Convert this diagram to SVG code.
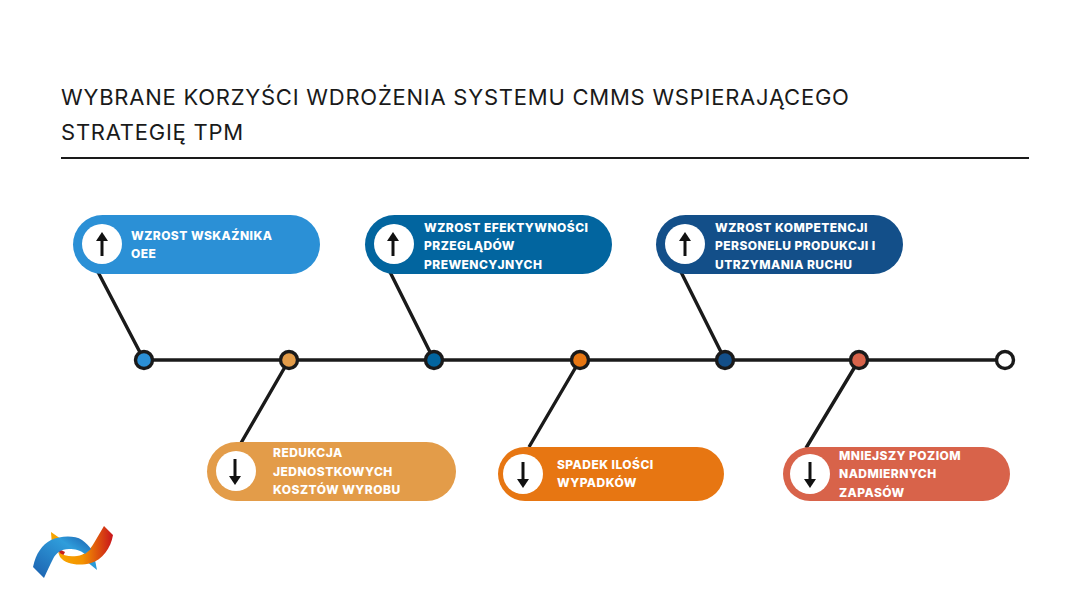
<svg xmlns="http://www.w3.org/2000/svg" width="1090" height="613" viewBox="0 0 1090 613">
<style>
.title{font:400 22px "Inter","Liberation Sans",sans-serif;letter-spacing:.76px;fill:#1a1a1a}
.lab{font:800 12px "Inter","Liberation Sans",sans-serif;letter-spacing:.45px;fill:#fff}
.c{stroke:#1a1a1a;stroke-width:3.4;fill:none}
.dot{stroke:#1a1a1a;stroke-width:3.4}
.ic{fill:#fff}
.ar{stroke:#111;stroke-width:3;fill:none}
.hd{fill:#111}
</style>
<rect width="1090" height="613" fill="#fff"/>
<g id="title">
<text class="title" x="61" y="105">WYBRANE KORZYŚCI WDROŻENIA SYSTEMU CMMS WSPIERAJĄCEGO</text>
<text class="title" x="61" y="140">STRATEGIĘ TPM</text>
<rect x="61" y="157" width="968" height="2" fill="#1a1a1a"/>
</g>
<g id="connectors">
<path class="c" d="M144 360H1005"/>
<path class="c" d="M98 272L144 360M390 272L434 360M681 272L725 360M289 360L241 443M580 360L529 447M859 360L806 448"/>
</g>
<g id="dots">
<circle class="dot" cx="144" cy="360" r="8.5" fill="#2b90d6"/>
<circle class="dot" cx="289" cy="360" r="8.5" fill="#e39c49"/>
<circle class="dot" cx="434" cy="360" r="8.5" fill="#02659f"/>
<circle class="dot" cx="580" cy="360" r="8.5" fill="#e77612"/>
<circle class="dot" cx="725" cy="360" r="8.5" fill="#134f89"/>
<circle class="dot" cx="859" cy="360" r="8.5" fill="#d8634a"/>
<circle class="dot" cx="1005" cy="360" r="8.5" fill="#fff"/>
</g>
<g id="node1">
<rect x="73" y="215" width="247" height="59" rx="29.5" fill="#2b90d6"/>
<circle class="ic" cx="102" cy="244" r="20"/>
<path class="ar" d="M102 256V238"/><path class="hd" d="M102 232L108 241H96Z"/>
<text class="lab" x="131" y="240">WZROST WSKAŹNIKA</text>
<text class="lab" x="131" y="258">OEE</text>
</g>
<g id="node2">
<rect x="365" y="215" width="247" height="59" rx="29.5" fill="#02659f"/>
<circle class="ic" cx="394" cy="244" r="20"/>
<path class="ar" d="M393 256V238"/><path class="hd" d="M393 232L399 241H387Z"/>
<text class="lab" x="424" y="232">WZROST EFEKTYWNOŚCI</text>
<text class="lab" x="424" y="250">PRZEGLĄDÓW</text>
<text class="lab" x="424" y="269">PREWENCYJNYCH</text>
</g>
<g id="node3">
<rect x="656" y="215" width="247" height="59" rx="29.5" fill="#134f89"/>
<circle class="ic" cx="685" cy="244" r="20"/>
<path class="ar" d="M685 256V238"/><path class="hd" d="M685 232L691 241H679Z"/>
<text class="lab" x="715" y="232">WZROST KOMPETENCJI</text>
<text class="lab" x="715" y="250">PERSONELU PRODUKCJI I</text>
<text class="lab" x="715" y="269">UTRZYMANIA RUCHU</text>
</g>
<g id="node4">
<rect x="207" y="442" width="249" height="59" rx="29.5" fill="#e39c49"/>
<circle class="ic" cx="236" cy="471" r="20"/>
<path class="ar" d="M235 459V478"/><path class="hd" d="M235 485L229 476H241Z"/>
<text class="lab" x="273" y="457">REDUKCJA</text>
<text class="lab" x="273" y="476">JEDNOSTKOWYCH</text>
<text class="lab" x="273" y="494">KOSZTÓW WYROBU</text>
</g>
<g id="node5">
<rect x="498" y="447" width="226" height="54" rx="27" fill="#e77612"/>
<circle class="ic" cx="523" cy="474" r="20"/>
<path class="ar" d="M523 462V481"/><path class="hd" d="M523 488L517 479H529Z"/>
<text class="lab" x="557" y="469">SPADEK ILOŚCI</text>
<text class="lab" x="557" y="487">WYPADKÓW</text>
</g>
<g id="node6">
<rect x="783" y="447" width="227" height="54" rx="27" fill="#d8634a"/>
<circle class="ic" cx="810" cy="474" r="20"/>
<path class="ar" d="M810 462V481"/><path class="hd" d="M810 488L804 479H816Z"/>
<text class="lab" x="839" y="460">MNIEJSZY POZIOM</text>
<text class="lab" x="839" y="478">NADMIERNYCH</text>
<text class="lab" x="839" y="497">ZAPASÓW</text>
</g>
<g id="logo">
<defs>
<linearGradient id="lb" x1="0" y1="1" x2="1" y2="0"><stop offset="0" stop-color="#1b5fae"/><stop offset=".7" stop-color="#2f9ddb"/><stop offset="1" stop-color="#1b5fae"/></linearGradient>
<linearGradient id="lo" x1="0" y1="0" x2="1" y2="0"><stop offset="0" stop-color="#f9a800"/><stop offset=".45" stop-color="#f39200"/><stop offset="1" stop-color="#c8141c"/></linearGradient>
</defs>
<path d="M51 532L61 539L52 546Z" fill="#f5a300"/>
<path d="M86 561L97 570L94 555Z" fill="#2a9ad6"/>
<path d="M57 548L65 552L62 558Z" fill="#c8201c"/>
<path d="M58 552C64 556 70 557 77 556C85 555 90 550 94 543L104 526L113 535C111 548 102 560 91 563C80 566 66 565 60 557Z" fill="url(#lo)"/>
<path d="M33 567C36 553 42 545 51 540C60 536 74 535 82 540C86 543 89 546 91 549L85 554C80 550 75 549 69 549C61 549 56 553 53 559C50 565 47 571 44 578Z" fill="url(#lb)"/>
</g>
</svg>
